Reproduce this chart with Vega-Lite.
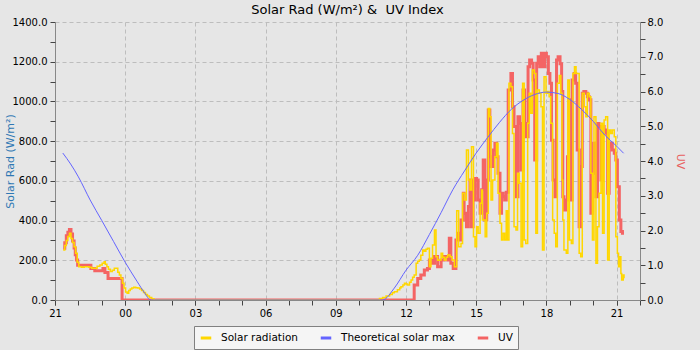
{
  "$schema": "https://vega.github.io/schema/vega-lite/v6.json",
  "autosize": "none",
  "width": 585,
  "height": 278,
  "padding": {"left": 55, "top": 22, "right": 60, "bottom": 50},
  "background": "#e6e6e6",
  "title": {
    "text": "Solar Rad (W/m²) & \u00a0UV Index",
    "font": "DejaVu Sans",
    "fontSize": 13,
    "fontWeight": "normal",
    "color": "#000000",
    "offset": 0
  },
  "datasets": {
    "solar": [
      {"time": "2024-06-10T21:21Z", "value": 252},
      {"time": "2024-06-10T21:25Z", "value": 275},
      {"time": "2024-06-10T21:29Z", "value": 300},
      {"time": "2024-06-10T21:33Z", "value": 320},
      {"time": "2024-06-10T21:37Z", "value": 336},
      {"time": "2024-06-10T21:41Z", "value": 310},
      {"time": "2024-06-10T21:45Z", "value": 290},
      {"time": "2024-06-10T21:49Z", "value": 268},
      {"time": "2024-06-10T21:53Z", "value": 235},
      {"time": "2024-06-10T21:57Z", "value": 190},
      {"time": "2024-06-10T22:01Z", "value": 168},
      {"time": "2024-06-10T22:08Z", "value": 165},
      {"time": "2024-06-10T22:15Z", "value": 168},
      {"time": "2024-06-10T22:21Z", "value": 168},
      {"time": "2024-06-10T22:27Z", "value": 165},
      {"time": "2024-06-10T22:34Z", "value": 160},
      {"time": "2024-06-10T22:42Z", "value": 160},
      {"time": "2024-06-10T22:48Z", "value": 170},
      {"time": "2024-06-10T22:55Z", "value": 176},
      {"time": "2024-06-10T23:01Z", "value": 185},
      {"time": "2024-06-10T23:06Z", "value": 193},
      {"time": "2024-06-10T23:09Z", "value": 180},
      {"time": "2024-06-10T23:13Z", "value": 168},
      {"time": "2024-06-10T23:17Z", "value": 155},
      {"time": "2024-06-10T23:22Z", "value": 143},
      {"time": "2024-06-10T23:27Z", "value": 150},
      {"time": "2024-06-10T23:32Z", "value": 160},
      {"time": "2024-06-10T23:37Z", "value": 160},
      {"time": "2024-06-10T23:41Z", "value": 140},
      {"time": "2024-06-10T23:45Z", "value": 126},
      {"time": "2024-06-10T23:49Z", "value": 110},
      {"time": "2024-06-10T23:53Z", "value": 84},
      {"time": "2024-06-10T23:57Z", "value": 60},
      {"time": "2024-06-11T00:01Z", "value": 40},
      {"time": "2024-06-11T00:05Z", "value": 34},
      {"time": "2024-06-11T00:09Z", "value": 48},
      {"time": "2024-06-11T00:13Z", "value": 55},
      {"time": "2024-06-11T00:17Z", "value": 60},
      {"time": "2024-06-11T00:22Z", "value": 64},
      {"time": "2024-06-11T00:27Z", "value": 62},
      {"time": "2024-06-11T00:32Z", "value": 60},
      {"time": "2024-06-11T00:37Z", "value": 55},
      {"time": "2024-06-11T00:42Z", "value": 48},
      {"time": "2024-06-11T00:47Z", "value": 38},
      {"time": "2024-06-11T00:52Z", "value": 28},
      {"time": "2024-06-11T00:57Z", "value": 20},
      {"time": "2024-06-11T01:02Z", "value": 12},
      {"time": "2024-06-11T01:08Z", "value": 6},
      {"time": "2024-06-11T01:14Z", "value": 0},
      {"time": "2024-06-11T10:50Z", "value": 0},
      {"time": "2024-06-11T10:52Z", "value": 8},
      {"time": "2024-06-11T11:00Z", "value": 12},
      {"time": "2024-06-11T11:09Z", "value": 20},
      {"time": "2024-06-11T11:18Z", "value": 28},
      {"time": "2024-06-11T11:25Z", "value": 36},
      {"time": "2024-06-11T11:30Z", "value": 42},
      {"time": "2024-06-11T11:38Z", "value": 52},
      {"time": "2024-06-11T11:44Z", "value": 60},
      {"time": "2024-06-11T11:47Z", "value": 67},
      {"time": "2024-06-11T11:52Z", "value": 75},
      {"time": "2024-06-11T11:56Z", "value": 84},
      {"time": "2024-06-11T12:00Z", "value": 80},
      {"time": "2024-06-11T12:04Z", "value": 75},
      {"time": "2024-06-11T12:09Z", "value": 90},
      {"time": "2024-06-11T12:13Z", "value": 101},
      {"time": "2024-06-11T12:17Z", "value": 115},
      {"time": "2024-06-11T12:21Z", "value": 126},
      {"time": "2024-06-11T12:26Z", "value": 185},
      {"time": "2024-06-11T12:30Z", "value": 195},
      {"time": "2024-06-11T12:34Z", "value": 201},
      {"time": "2024-06-11T12:38Z", "value": 225},
      {"time": "2024-06-11T12:43Z", "value": 252},
      {"time": "2024-06-11T12:47Z", "value": 245},
      {"time": "2024-06-11T12:51Z", "value": 255},
      {"time": "2024-06-11T12:55Z", "value": 260},
      {"time": "2024-06-11T13:00Z", "value": 168},
      {"time": "2024-06-11T13:04Z", "value": 210},
      {"time": "2024-06-11T13:08Z", "value": 277},
      {"time": "2024-06-11T13:13Z", "value": 353},
      {"time": "2024-06-11T13:17Z", "value": 218},
      {"time": "2024-06-11T13:21Z", "value": 200},
      {"time": "2024-06-11T13:25Z", "value": 201},
      {"time": "2024-06-11T13:30Z", "value": 235},
      {"time": "2024-06-11T13:34Z", "value": 215},
      {"time": "2024-06-11T13:38Z", "value": 201},
      {"time": "2024-06-11T13:43Z", "value": 215},
      {"time": "2024-06-11T13:47Z", "value": 227},
      {"time": "2024-06-11T13:53Z", "value": 218},
      {"time": "2024-06-11T13:58Z", "value": 201},
      {"time": "2024-06-11T14:04Z", "value": 168},
      {"time": "2024-06-11T14:10Z", "value": 450},
      {"time": "2024-06-11T14:15Z", "value": 268},
      {"time": "2024-06-11T14:21Z", "value": 285},
      {"time": "2024-06-11T14:25Z", "value": 537},
      {"time": "2024-06-11T14:30Z", "value": 504},
      {"time": "2024-06-11T14:35Z", "value": 755},
      {"time": "2024-06-11T14:40Z", "value": 604},
      {"time": "2024-06-11T14:44Z", "value": 554},
      {"time": "2024-06-11T14:48Z", "value": 772},
      {"time": "2024-06-11T14:53Z", "value": 319},
      {"time": "2024-06-11T14:57Z", "value": 268},
      {"time": "2024-06-11T15:01Z", "value": 369},
      {"time": "2024-06-11T15:05Z", "value": 336},
      {"time": "2024-06-11T15:10Z", "value": 487},
      {"time": "2024-06-11T15:14Z", "value": 554},
      {"time": "2024-06-11T15:16Z", "value": 403},
      {"time": "2024-06-11T15:23Z", "value": 319},
      {"time": "2024-06-11T15:27Z", "value": 437},
      {"time": "2024-06-11T15:31Z", "value": 965},
      {"time": "2024-06-11T15:35Z", "value": 923},
      {"time": "2024-06-11T15:38Z", "value": 504},
      {"time": "2024-06-11T15:42Z", "value": 604},
      {"time": "2024-06-11T15:48Z", "value": 722},
      {"time": "2024-06-11T15:52Z", "value": 789},
      {"time": "2024-06-11T15:56Z", "value": 537},
      {"time": "2024-06-11T16:01Z", "value": 386},
      {"time": "2024-06-11T16:05Z", "value": 302},
      {"time": "2024-06-11T16:09Z", "value": 336},
      {"time": "2024-06-11T16:13Z", "value": 302},
      {"time": "2024-06-11T16:17Z", "value": 450},
      {"time": "2024-06-11T16:20Z", "value": 302},
      {"time": "2024-06-11T16:24Z", "value": 1091},
      {"time": "2024-06-11T16:29Z", "value": 1074},
      {"time": "2024-06-11T16:33Z", "value": 839},
      {"time": "2024-06-11T16:37Z", "value": 369},
      {"time": "2024-06-11T16:42Z", "value": 353},
      {"time": "2024-06-11T16:46Z", "value": 638},
      {"time": "2024-06-11T16:50Z", "value": 588},
      {"time": "2024-06-11T16:55Z", "value": 268},
      {"time": "2024-06-11T16:59Z", "value": 1091},
      {"time": "2024-06-11T17:03Z", "value": 302},
      {"time": "2024-06-11T17:07Z", "value": 285},
      {"time": "2024-06-11T17:12Z", "value": 890},
      {"time": "2024-06-11T17:16Z", "value": 1041},
      {"time": "2024-06-11T17:20Z", "value": 940},
      {"time": "2024-06-11T17:24Z", "value": 1158},
      {"time": "2024-06-11T17:29Z", "value": 1141},
      {"time": "2024-06-11T17:33Z", "value": 336},
      {"time": "2024-06-11T17:37Z", "value": 1058},
      {"time": "2024-06-11T17:42Z", "value": 1041},
      {"time": "2024-06-11T17:46Z", "value": 973},
      {"time": "2024-06-11T17:50Z", "value": 252},
      {"time": "2024-06-11T17:54Z", "value": 1124},
      {"time": "2024-06-11T17:59Z", "value": 1041},
      {"time": "2024-06-11T18:03Z", "value": 1050},
      {"time": "2024-06-11T18:07Z", "value": 1024},
      {"time": "2024-06-11T18:11Z", "value": 890},
      {"time": "2024-06-11T18:16Z", "value": 403},
      {"time": "2024-06-11T18:20Z", "value": 336},
      {"time": "2024-06-11T18:24Z", "value": 268},
      {"time": "2024-06-11T18:28Z", "value": 1091},
      {"time": "2024-06-11T18:33Z", "value": 1130},
      {"time": "2024-06-11T18:37Z", "value": 1041},
      {"time": "2024-06-11T18:40Z", "value": 604},
      {"time": "2024-06-11T18:42Z", "value": 403},
      {"time": "2024-06-11T18:45Z", "value": 252},
      {"time": "2024-06-11T18:51Z", "value": 235},
      {"time": "2024-06-11T18:55Z", "value": 1108},
      {"time": "2024-06-11T18:59Z", "value": 302},
      {"time": "2024-06-11T19:04Z", "value": 285},
      {"time": "2024-06-11T19:08Z", "value": 1141},
      {"time": "2024-06-11T19:12Z", "value": 1175},
      {"time": "2024-06-11T19:16Z", "value": 1141},
      {"time": "2024-06-11T19:20Z", "value": 1141},
      {"time": "2024-06-11T19:24Z", "value": 235},
      {"time": "2024-06-11T19:28Z", "value": 218},
      {"time": "2024-06-11T19:32Z", "value": 1041},
      {"time": "2024-06-11T19:37Z", "value": 973},
      {"time": "2024-06-11T19:41Z", "value": 923},
      {"time": "2024-06-11T19:45Z", "value": 1041},
      {"time": "2024-06-11T19:50Z", "value": 1024},
      {"time": "2024-06-11T19:54Z", "value": 638},
      {"time": "2024-06-11T19:58Z", "value": 302},
      {"time": "2024-06-11T20:02Z", "value": 923},
      {"time": "2024-06-11T20:07Z", "value": 185},
      {"time": "2024-06-11T20:11Z", "value": 369},
      {"time": "2024-06-11T20:15Z", "value": 537},
      {"time": "2024-06-11T20:20Z", "value": 890},
      {"time": "2024-06-11T20:24Z", "value": 336},
      {"time": "2024-06-11T20:28Z", "value": 906},
      {"time": "2024-06-11T20:32Z", "value": 923},
      {"time": "2024-06-11T20:37Z", "value": 201},
      {"time": "2024-06-11T20:41Z", "value": 856},
      {"time": "2024-06-11T20:45Z", "value": 839},
      {"time": "2024-06-11T20:49Z", "value": 856},
      {"time": "2024-06-11T20:54Z", "value": 822},
      {"time": "2024-06-11T20:58Z", "value": 319},
      {"time": "2024-06-11T21:02Z", "value": 235},
      {"time": "2024-06-11T21:05Z", "value": 168},
      {"time": "2024-06-11T21:08Z", "value": 218},
      {"time": "2024-06-11T21:11Z", "value": 134},
      {"time": "2024-06-11T21:13Z", "value": 101},
      {"time": "2024-06-11T21:17Z", "value": 126},
      {"time": "2024-06-11T21:19Z", "value": 110}
    ],
    "theoretical": [
      {"time": "2024-06-10T21:20Z", "value": 740},
      {"time": "2024-06-10T21:40Z", "value": 685},
      {"time": "2024-06-10T22:00Z", "value": 620},
      {"time": "2024-06-10T22:30Z", "value": 504},
      {"time": "2024-06-10T23:00Z", "value": 400},
      {"time": "2024-06-10T23:30Z", "value": 295},
      {"time": "2024-06-11T00:00Z", "value": 190},
      {"time": "2024-06-11T00:30Z", "value": 95},
      {"time": "2024-06-11T00:50Z", "value": 35},
      {"time": "2024-06-11T01:05Z", "value": 0},
      {"time": "2024-06-11T11:00Z", "value": 0},
      {"time": "2024-06-11T11:30Z", "value": 60},
      {"time": "2024-06-11T12:00Z", "value": 150},
      {"time": "2024-06-11T12:30Z", "value": 225},
      {"time": "2024-06-11T13:00Z", "value": 330},
      {"time": "2024-06-11T13:30Z", "value": 440},
      {"time": "2024-06-11T14:00Z", "value": 555},
      {"time": "2024-06-11T14:30Z", "value": 650},
      {"time": "2024-06-11T15:00Z", "value": 740},
      {"time": "2024-06-11T15:30Z", "value": 820},
      {"time": "2024-06-11T16:00Z", "value": 895},
      {"time": "2024-06-11T16:30Z", "value": 960},
      {"time": "2024-06-11T17:00Z", "value": 1005},
      {"time": "2024-06-11T17:30Z", "value": 1035},
      {"time": "2024-06-11T18:00Z", "value": 1047},
      {"time": "2024-06-11T18:30Z", "value": 1040},
      {"time": "2024-06-11T19:00Z", "value": 1010},
      {"time": "2024-06-11T19:30Z", "value": 960},
      {"time": "2024-06-11T20:00Z", "value": 900},
      {"time": "2024-06-11T20:30Z", "value": 830},
      {"time": "2024-06-11T21:00Z", "value": 775},
      {"time": "2024-06-11T21:18Z", "value": 739}
    ],
    "uv": [
      {"time": "2024-06-10T21:21Z", "value": 1.49},
      {"time": "2024-06-10T21:25Z", "value": 1.65},
      {"time": "2024-06-10T21:29Z", "value": 1.85},
      {"time": "2024-06-10T21:33Z", "value": 1.95},
      {"time": "2024-06-10T21:37Z", "value": 2.03},
      {"time": "2024-06-10T21:41Z", "value": 1.9},
      {"time": "2024-06-10T21:45Z", "value": 1.7},
      {"time": "2024-06-10T21:49Z", "value": 1.5},
      {"time": "2024-06-10T21:52Z", "value": 1.3},
      {"time": "2024-06-10T21:55Z", "value": 1.15},
      {"time": "2024-06-10T21:58Z", "value": 1.0},
      {"time": "2024-06-10T22:32Z", "value": 0.91},
      {"time": "2024-06-10T22:42Z", "value": 0.84},
      {"time": "2024-06-10T23:03Z", "value": 0.91},
      {"time": "2024-06-10T23:08Z", "value": 0.79},
      {"time": "2024-06-10T23:16Z", "value": 0.62},
      {"time": "2024-06-10T23:52Z", "value": 0},
      {"time": "2024-06-11T12:21Z", "value": 0.43},
      {"time": "2024-06-11T12:30Z", "value": 0.62},
      {"time": "2024-06-11T12:38Z", "value": 0.72},
      {"time": "2024-06-11T12:47Z", "value": 0.86},
      {"time": "2024-06-11T12:55Z", "value": 0.91},
      {"time": "2024-06-11T13:00Z", "value": 1.15},
      {"time": "2024-06-11T13:07Z", "value": 1.06},
      {"time": "2024-06-11T13:13Z", "value": 1.25},
      {"time": "2024-06-11T13:21Z", "value": 0.96},
      {"time": "2024-06-11T13:30Z", "value": 1.15},
      {"time": "2024-06-11T13:38Z", "value": 1.25},
      {"time": "2024-06-11T13:47Z", "value": 1.15},
      {"time": "2024-06-11T13:51Z", "value": 1.78},
      {"time": "2024-06-11T13:55Z", "value": 1.06},
      {"time": "2024-06-11T14:01Z", "value": 0.91},
      {"time": "2024-06-11T14:08Z", "value": 1.73},
      {"time": "2024-06-11T14:12Z", "value": 1.92},
      {"time": "2024-06-11T14:17Z", "value": 1.73},
      {"time": "2024-06-11T14:21Z", "value": 2.3},
      {"time": "2024-06-11T14:27Z", "value": 3.07},
      {"time": "2024-06-11T14:29Z", "value": 2.5},
      {"time": "2024-06-11T14:35Z", "value": 2.11},
      {"time": "2024-06-11T14:40Z", "value": 2.69},
      {"time": "2024-06-11T14:44Z", "value": 3.45},
      {"time": "2024-06-11T14:48Z", "value": 2.11},
      {"time": "2024-06-11T14:52Z", "value": 2.88},
      {"time": "2024-06-11T14:57Z", "value": 3.5},
      {"time": "2024-06-11T15:01Z", "value": 3.45},
      {"time": "2024-06-11T15:05Z", "value": 2.88},
      {"time": "2024-06-11T15:10Z", "value": 2.5},
      {"time": "2024-06-11T15:14Z", "value": 3.17},
      {"time": "2024-06-11T15:18Z", "value": 4.03},
      {"time": "2024-06-11T15:22Z", "value": 2.3},
      {"time": "2024-06-11T15:27Z", "value": 3.45},
      {"time": "2024-06-11T15:31Z", "value": 5.47},
      {"time": "2024-06-11T15:35Z", "value": 4.12},
      {"time": "2024-06-11T15:39Z", "value": 3.84},
      {"time": "2024-06-11T15:44Z", "value": 4.32},
      {"time": "2024-06-11T15:48Z", "value": 4.51},
      {"time": "2024-06-11T15:52Z", "value": 4.12},
      {"time": "2024-06-11T15:56Z", "value": 3.65},
      {"time": "2024-06-11T16:01Z", "value": 2.5},
      {"time": "2024-06-11T16:05Z", "value": 3.07},
      {"time": "2024-06-11T16:09Z", "value": 2.97},
      {"time": "2024-06-11T16:13Z", "value": 2.88},
      {"time": "2024-06-11T16:17Z", "value": 3.1},
      {"time": "2024-06-11T16:22Z", "value": 6.04},
      {"time": "2024-06-11T16:29Z", "value": 6.52},
      {"time": "2024-06-11T16:33Z", "value": 5.56},
      {"time": "2024-06-11T16:37Z", "value": 4.99},
      {"time": "2024-06-11T16:43Z", "value": 2.97},
      {"time": "2024-06-11T16:47Z", "value": 5.27},
      {"time": "2024-06-11T16:51Z", "value": 5.08},
      {"time": "2024-06-11T16:55Z", "value": 3.74},
      {"time": "2024-06-11T17:00Z", "value": 6.04},
      {"time": "2024-06-11T17:04Z", "value": 5.08},
      {"time": "2024-06-11T17:08Z", "value": 4.7},
      {"time": "2024-06-11T17:13Z", "value": 6.71},
      {"time": "2024-06-11T17:17Z", "value": 6.91},
      {"time": "2024-06-11T17:22Z", "value": 6.81},
      {"time": "2024-06-11T17:26Z", "value": 6.33},
      {"time": "2024-06-11T17:30Z", "value": 4.03},
      {"time": "2024-06-11T17:35Z", "value": 6.81},
      {"time": "2024-06-11T17:39Z", "value": 7.0},
      {"time": "2024-06-11T17:43Z", "value": 6.71},
      {"time": "2024-06-11T17:47Z", "value": 7.1},
      {"time": "2024-06-11T17:52Z", "value": 6.71},
      {"time": "2024-06-11T17:56Z", "value": 7.1},
      {"time": "2024-06-11T18:00Z", "value": 7.0},
      {"time": "2024-06-11T18:05Z", "value": 6.52},
      {"time": "2024-06-11T18:09Z", "value": 6.24},
      {"time": "2024-06-11T18:13Z", "value": 4.6},
      {"time": "2024-06-11T18:17Z", "value": 3.45},
      {"time": "2024-06-11T18:22Z", "value": 2.97},
      {"time": "2024-06-11T18:26Z", "value": 6.91},
      {"time": "2024-06-11T18:30Z", "value": 7.0},
      {"time": "2024-06-11T18:35Z", "value": 6.8},
      {"time": "2024-06-11T18:39Z", "value": 6.0},
      {"time": "2024-06-11T18:42Z", "value": 2.97},
      {"time": "2024-06-11T18:45Z", "value": 2.59},
      {"time": "2024-06-11T18:49Z", "value": 2.88},
      {"time": "2024-06-11T18:54Z", "value": 4.12},
      {"time": "2024-06-11T18:58Z", "value": 5.76},
      {"time": "2024-06-11T19:02Z", "value": 2.88},
      {"time": "2024-06-11T19:06Z", "value": 6.33},
      {"time": "2024-06-11T19:11Z", "value": 6.52},
      {"time": "2024-06-11T19:15Z", "value": 6.24},
      {"time": "2024-06-11T19:19Z", "value": 4.32},
      {"time": "2024-06-11T19:24Z", "value": 2.11},
      {"time": "2024-06-11T19:28Z", "value": 3.84},
      {"time": "2024-06-11T19:32Z", "value": 5.95},
      {"time": "2024-06-11T19:36Z", "value": 6.0},
      {"time": "2024-06-11T19:41Z", "value": 5.95},
      {"time": "2024-06-11T19:45Z", "value": 5.85},
      {"time": "2024-06-11T19:50Z", "value": 5.76},
      {"time": "2024-06-11T19:54Z", "value": 2.5},
      {"time": "2024-06-11T19:58Z", "value": 3.65},
      {"time": "2024-06-11T20:02Z", "value": 4.51},
      {"time": "2024-06-11T20:07Z", "value": 2.97},
      {"time": "2024-06-11T20:11Z", "value": 5.08},
      {"time": "2024-06-11T20:15Z", "value": 4.99},
      {"time": "2024-06-11T20:20Z", "value": 3.45},
      {"time": "2024-06-11T20:24Z", "value": 4.99},
      {"time": "2024-06-11T20:28Z", "value": 4.89},
      {"time": "2024-06-11T20:32Z", "value": 4.8},
      {"time": "2024-06-11T20:37Z", "value": 3.07},
      {"time": "2024-06-11T20:41Z", "value": 4.41},
      {"time": "2024-06-11T20:45Z", "value": 4.51},
      {"time": "2024-06-11T20:49Z", "value": 4.32},
      {"time": "2024-06-11T20:54Z", "value": 4.22},
      {"time": "2024-06-11T20:58Z", "value": 4.03},
      {"time": "2024-06-11T21:02Z", "value": 3.26},
      {"time": "2024-06-11T21:07Z", "value": 2.3},
      {"time": "2024-06-11T21:11Z", "value": 1.97},
      {"time": "2024-06-11T21:15Z", "value": 1.92},
      {"time": "2024-06-11T21:19Z", "value": 1.92}
    ]
  },
  "layer": [
    {
      "data": {"name": "uv"},
      "layer": [
        {
          "mark": {"type": "line", "interpolate": "step-after", "strokeWidth": 3, "clip": true},
          "encoding": {
            "x": {
              "field": "time",
              "type": "temporal",
              "scale": {"type": "utc", "domain": [1718053200000, 1718143200000]},
              "axis": {"orient": "bottom", "title": null, "tickCount": 25, "labels": false, "grid": false, "domain": false}
            },
            "y": {
              "field": "value",
              "type": "quantitative",
              "scale": {"domain": [0, 8], "nice": false},
              "axis": {
                "orient": "right",
                "title": "UV",
                "titleColor": "#e8605e",
                "titlePadding": 12,
                "values": [0, 1, 2, 3, 4, 5, 6, 7, 8],
                "format": ".1f",
                "labelPadding": 2,
                "grid": false
              }
            },
            "color": {
              "datum": "UV",
              "scale": {
                "domain": ["Solar radiation", "Theoretical solar max", "UV"],
                "range": ["#ffd700", "#6464ff", "#f46464"]
              },
              "legend": {
                "orient": "none",
                "legendX": 139,
                "legendY": 304,
                "direction": "horizontal",
                "title": null,
                "symbolType": "stroke",
                "symbolStrokeWidth": 3,
                "symbolSize": 110,
                "labelFont": "DejaVu Sans",
                "labelFontSize": 10.5,
                "labelColor": "#000000",
                "labelOffset": 8,
                "columnPadding": 16,
                "padding": 5,
                "fillColor": "#f5f5f5",
                "strokeColor": "#808080"
              }
            }
          }
        },
        {
          "mark": {"type": "line", "interpolate": "step-after", "strokeWidth": 1, "opacity": 0, "clip": true},
          "encoding": {
            "x": {
              "field": "time",
              "type": "temporal",
              "scale": {"type": "utc", "domain": [1718053200000, 1718143200000]},
              "axis": {"orient": "bottom", "title": null, "tickCount": 25, "labels": false, "grid": false, "domain": false}
            },
            "y": {
              "field": "value",
              "type": "quantitative",
              "scale": {"domain": [0, 8], "nice": false},
              "axis": {
                "orient": "right",
                "title": null,
                "values": [0.5, 1.5, 2.5, 3.5, 4.5, 5.5, 6.5, 7.5],
                "labels": false,
                "grid": false,
                "domain": false
              }
            }
          }
        }
      ],
      "resolve": {"axis": {"y": "independent"}}
    },
    {
      "layer": [
        {
          "data": {"name": "solar"},
          "mark": {"type": "line", "interpolate": "step-after", "strokeWidth": 1.5, "clip": true},
          "encoding": {
            "x": {
              "field": "time",
              "type": "temporal",
              "scale": {"type": "utc", "domain": [1718053200000, 1718143200000]},
              "axis": {"orient": "bottom", "title": null, "format": "%H", "tickCount": 9, "labelFlush": false, "grid": true}
            },
            "y": {
              "field": "value",
              "type": "quantitative",
              "scale": {"domain": [0, 1400], "nice": false},
              "axis": {
                "orient": "left",
                "title": "Solar Rad (W/m²)",
                "titleColor": "#2f78b4",
                "titlePadding": -3,
                "values": [0, 200, 400, 600, 800, 1000, 1200, 1400],
                "format": ".1f",
                "grid": true
              }
            },
            "color": {"datum": "Solar radiation"}
          }
        },
        {
          "data": {"name": "theoretical"},
          "mark": {"type": "line", "interpolate": "monotone", "strokeWidth": 1, "clip": true},
          "encoding": {
            "x": {
              "field": "time",
              "type": "temporal",
              "scale": {"type": "utc", "domain": [1718053200000, 1718143200000]},
              "axis": {"orient": "bottom", "title": null, "format": "%H", "tickCount": 9, "labelFlush": false, "grid": true}
            },
            "y": {
              "field": "value",
              "type": "quantitative",
              "scale": {"domain": [0, 1400], "nice": false},
              "axis": {
                "orient": "left",
                "title": null,
                "values": [100, 300, 500, 700, 900, 1100, 1300],
                "labels": false,
                "grid": false,
                "domain": false
              }
            },
            "color": {"datum": "Theoretical solar max"}
          }
        }
      ],
      "resolve": {"axis": {"y": "independent"}}
    }
  ],
  "resolve": {"scale": {"y": "independent"}, "axis": {"x": "independent"}},
  "config": {
    "font": "DejaVu Sans",
    "view": {"stroke": null},
    "axis": {
      "labelFont": "DejaVu Sans",
      "labelFontSize": 10,
      "labelColor": "#000000",
      "titleFont": "DejaVu Sans",
      "titleFontSize": 11,
      "titleFontWeight": "normal",
      "domainColor": "#888888",
      "tickColor": "#444444",
      "tickSize": 5,
      "labelPadding": 3,
      "gridColor": "#bdbdbd",
      "gridDash": [4, 3],
      "gridWidth": 1
    }
  }
}
